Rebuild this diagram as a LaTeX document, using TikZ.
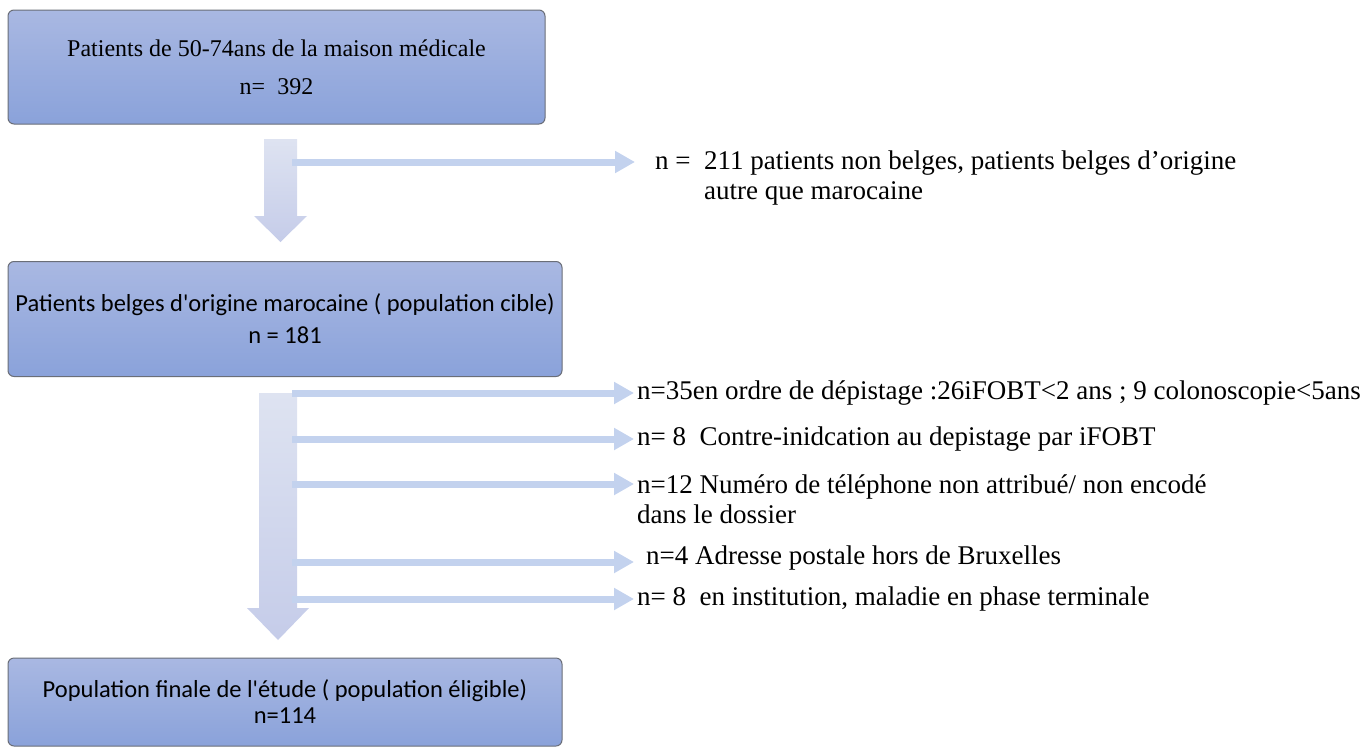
\documentclass[tikz,border=0pt]{standalone}
\usepackage{fontspec}
\setmainfont{Liberation Serif}
\newfontfamily\calibrifont{Carlito}
\usetikzlibrary{arrows.meta}
\usetikzlibrary{positioning}
\definecolor{box_top}{HTML}{A9B8E2}
\definecolor{box_bottom}{HTML}{8AA2DA}
\definecolor{box_line}{HTML}{6A6E78}
\definecolor{arrow_top}{HTML}{DEE3F1}
\definecolor{arrow_bottom}{HTML}{C5CCE9}
\definecolor{branch_blue}{HTML}{C3D2EE}
\tikzstyle{blue_box} = [
    rectangle,
    rounded corners=6pt,
    draw=box_line,
    line width=1pt,
    top color=box_top,
    bottom color=box_bottom,
    align=center,
    inner sep=0pt
]
\tikzstyle{side_text} = [
    anchor=west,
    align=left,
    inner sep=0pt,
    font=\fontsize{27}{30}\selectfont
]
\tikzstyle{thin_arrow} = [
    draw=branch_blue,
    line width=7pt,
    shorten >=3pt,
    -{Triangle[length=20pt, width=21pt]}
]
\tikzstyle{fat_arrow} = [
    top color=arrow_top,
    bottom color=arrow_bottom
]

\begin{document}
\begin{tikzpicture}[x=1pt, y=-1pt]
\useasboundingbox (0,0) rectangle (1370,747);

% boxes
\node [blue_box, minimum width=537, minimum height=114,
    font=\fontsize{24}{28}\selectfont] (start) at (276.5,67)
    {Patients de 50-74ans de la maison médicale\\[10pt]n=~~392};
\node [blue_box, minimum width=554, minimum height=115,
    font=\calibrifont\fontsize{24.5}{32}\selectfont] (target) at (285,319)
    {Patients belges d\textquotesingle origine marocaine ( population cible)\\n = 181};
\node [blue_box, minimum width=554, minimum height=88,
    font=\calibrifont\fontsize{24.5}{26}\selectfont] (final) at (285,702)
    {Population finale de l\textquotesingle étude ( population éligible)\\n=114};

% big arrows
\coordinate (split1) at (280.5,139);
\coordinate (split2) at (278,393);
\shade [fat_arrow] (split1) ++(-16.5,0) -- ++(33,0) -- ++(0,77) -- ++(10,0)
    -- ++(-26.5,26) -- ++(-26.5,-26) -- ++(10,0) -- cycle;
\shade [fat_arrow] (split2) ++(-19,0) -- ++(38,0) -- ++(0,215) -- ++(12,0)
    -- ++(-31,32) -- ++(-31,-32) -- ++(12,0) -- cycle;

% exclusions
\node [side_text] (excl0) at (655,178)
    {n =~~211 patients non belges, patients belges d’origine\\\phantom{n =~~}autre que marocaine};
\node [side_text] (excl1) at (637,393)
    {n=35en ordre de dépistage :26iFOBT<2 ans ; 9 colonoscopie<5ans};
\node [side_text] (excl2) at (637,439)
    {n= 8~~Contre-inidcation au depistage par iFOBT};
\node [side_text] (excl3) at (637,499)
    {n=12 Numéro de téléphone non attribué/ non encodé\\dans le dossier};
\node [side_text] (excl4) at (646,558)
    {n=4 Adresse postale hors de Bruxelles};
\node [side_text] (excl5) at (637,599)
    {n= 8~~en institution, maladie en phase terminale};

\coordinate (b0) at (292,162);
\coordinate (b1) at (292,393);
\coordinate (b2) at (292,439);
\coordinate (b3) at (292,484);
\coordinate (b4) at (292,562);
\coordinate (b5) at (292,599);
\draw [thin_arrow, shorten >=20pt] (b0) -- (b0 -| excl0.west);
\draw [thin_arrow] (b1) -- (b1 -| excl1.west);
\draw [thin_arrow] (b2) -- (b2 -| excl2.west);
\draw [thin_arrow] (b3) -- (b3 -| excl3.west);
\draw [thin_arrow, shorten >=12pt] (b4) -- (b4 -| excl4.west);
\draw [thin_arrow] (b5) -- (b5 -| excl5.west);
\end{tikzpicture}
\end{document}
